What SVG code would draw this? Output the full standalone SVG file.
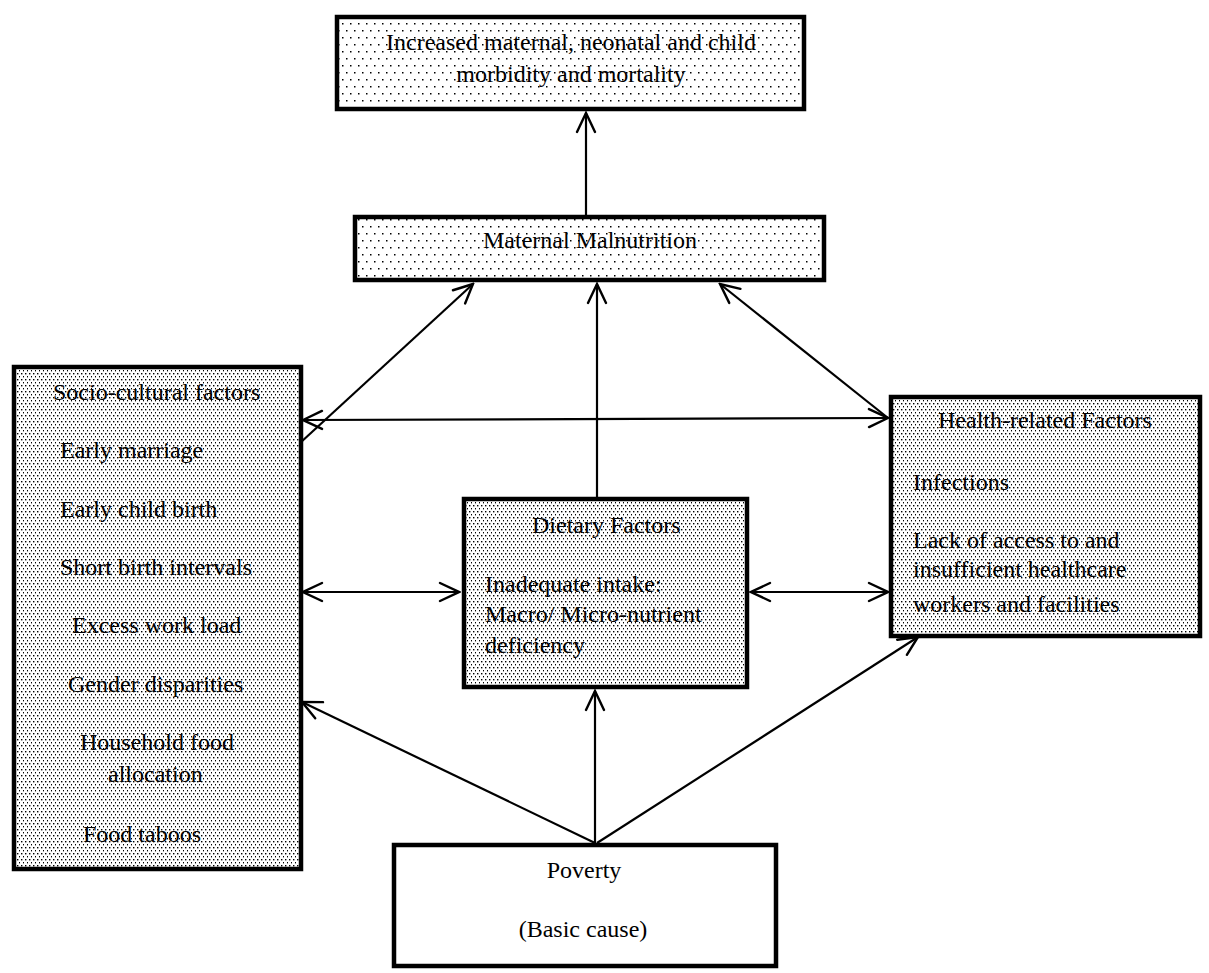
<svg xmlns="http://www.w3.org/2000/svg" width="1209" height="973" viewBox="0 0 1209 973">
<style>
.box{stroke:#000;stroke-width:4.5}
.t{font-family:"Liberation Serif","Times New Roman",serif;font-size:24px;fill:#000}
.c{text-anchor:middle}
.conn{stroke:#000;stroke-width:2.2;fill:none}
</style>
<defs>
<pattern id="sparse" patternUnits="userSpaceOnUse" width="8" height="14">
<rect width="8" height="14" fill="#fff"/>
<rect x="2" y="2" width="1.5" height="1.5" fill="#000"/>
<rect x="6" y="9" width="1.5" height="1.5" fill="#000"/>
</pattern>
<pattern id="dense" patternUnits="userSpaceOnUse" width="4" height="6">
<rect width="4" height="6" fill="#fff"/>
<rect x="1" y="1" width="1.4" height="1.4" fill="#000"/>
<rect x="3" y="4" width="1.4" height="1.4" fill="#000"/>
</pattern>
<marker id="ah" markerUnits="userSpaceOnUse" viewBox="0 0 24 24" markerWidth="24" markerHeight="24" refX="22" refY="12" orient="auto-start-reverse">
<path d="M3,3 L22,12 L3,21" fill="none" stroke="#000" stroke-width="2.4" stroke-linecap="round" stroke-linejoin="miter"/>
</marker>
</defs>
<rect width="1209" height="973" fill="#fff"/>

<g id="connectors">
<line class="conn" x1="586" y1="215" x2="586" y2="113" marker-end="url(#ah)"/>
<line class="conn" x1="300" y1="443" x2="473" y2="284" marker-end="url(#ah)"/>
<line class="conn" x1="597" y1="497" x2="597" y2="284" marker-end="url(#ah)"/>
<line class="conn" x1="888" y1="418" x2="720" y2="284" marker-end="url(#ah)"/>
<line class="conn" x1="303" y1="420" x2="888" y2="418" marker-start="url(#ah)" marker-end="url(#ah)"/>
<line class="conn" x1="303" y1="592" x2="459" y2="592" marker-start="url(#ah)" marker-end="url(#ah)"/>
<line class="conn" x1="751" y1="592" x2="888" y2="592" marker-start="url(#ah)" marker-end="url(#ah)"/>
<line class="conn" x1="595" y1="843" x2="302" y2="702" marker-end="url(#ah)"/>
<line class="conn" x1="595" y1="843" x2="595" y2="691" marker-end="url(#ah)"/>
<line class="conn" x1="597" y1="843" x2="918" y2="637" marker-end="url(#ah)"/>
</g>

<g id="outcome">
<rect class="box" x="337" y="17" width="467" height="92" fill="url(#sparse)"/>
<text class="t c" x="571" y="50">Increased maternal, neonatal and child</text>
<text class="t c" x="571" y="82">morbidity and mortality</text>
</g>

<g id="maternal">
<rect class="box" x="355" y="217" width="469" height="63" fill="url(#sparse)"/>
<text class="t c" x="590" y="248">Maternal Malnutrition</text>
</g>

<g id="sociocultural">
<rect class="box" x="14" y="367" width="287" height="502" fill="url(#dense)"/>
<text class="t" x="53" y="400">Socio-cultural factors</text>
<text class="t" x="60" y="458">Early marriage</text>
<text class="t" x="60" y="517">Early child birth</text>
<text class="t" x="60" y="575">Short birth intervals</text>
<text class="t" x="72" y="633">Excess work load</text>
<text class="t" x="68" y="692">Gender disparities</text>
<text class="t" x="80" y="750">Household food</text>
<text class="t" x="108" y="782">allocation</text>
<text class="t" x="83" y="842">Food taboos</text>
</g>

<g id="dietary">
<rect class="box" x="464" y="499" width="283" height="188" fill="url(#dense)"/>
<text class="t" x="532" y="533">Dietary Factors</text>
<text class="t" x="485" y="592">Inadequate intake:</text>
<text class="t" x="485" y="622">Macro/ Micro-nutrient</text>
<text class="t" x="485" y="653">deficiency</text>
</g>

<g id="health">
<rect class="box" x="891" y="397" width="309" height="239" fill="url(#dense)"/>
<text class="t" x="938" y="428">Health-related Factors</text>
<text class="t" x="913" y="490">Infections</text>
<text class="t" x="913" y="548">Lack of access to and</text>
<text class="t" x="913" y="577">insufficient healthcare</text>
<text class="t" x="913" y="612">workers and facilities</text>
</g>

<g id="poverty">
<rect class="box" x="394" y="845" width="382" height="121" fill="#fff"/>
<text class="t c" x="584" y="878">Poverty</text>
<text class="t c" x="583" y="937">(Basic cause)</text>
</g>
</svg>
